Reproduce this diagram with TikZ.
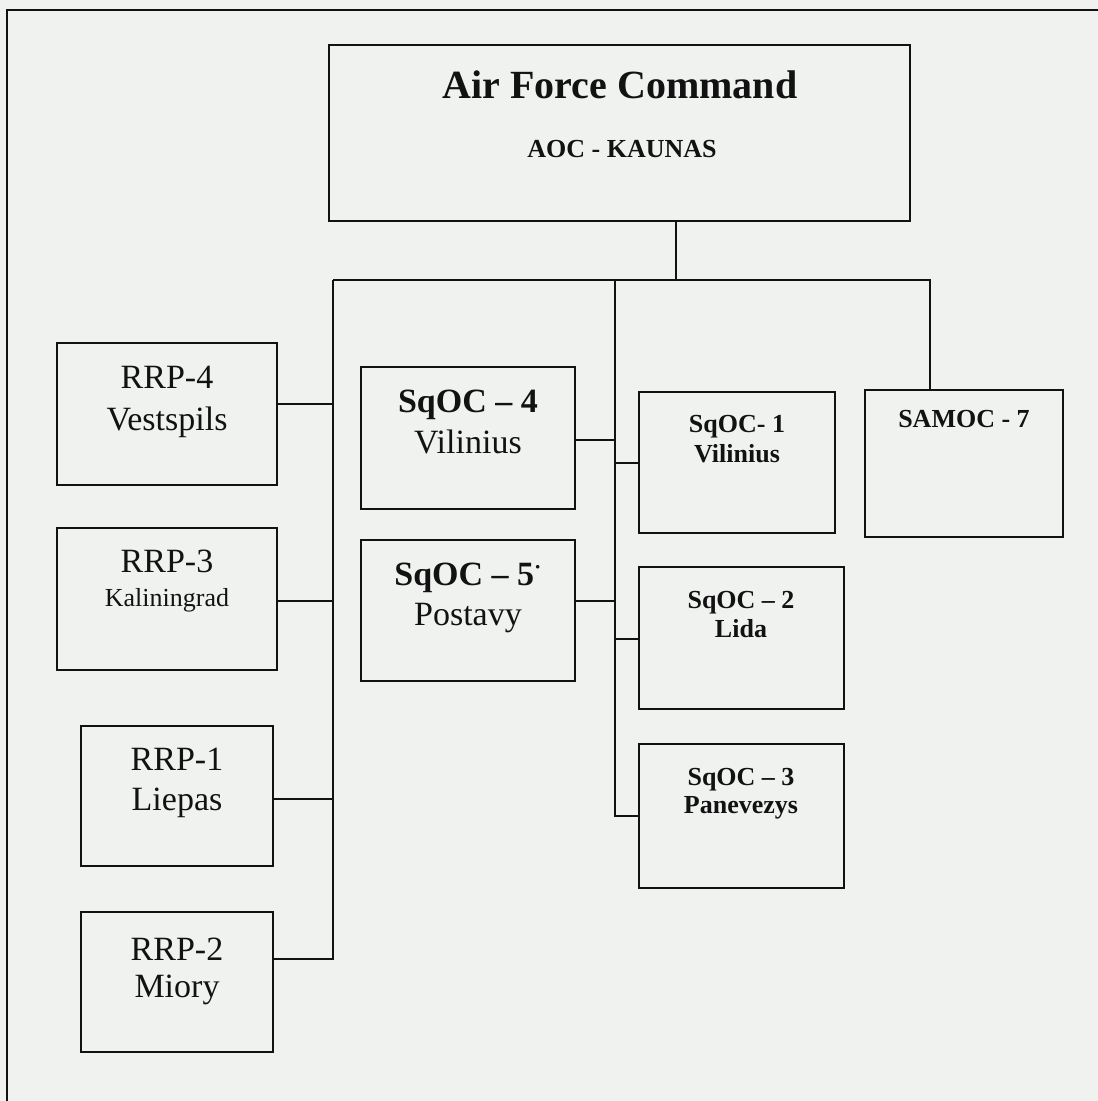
\documentclass[tikz,border=0pt]{standalone}
\usepackage{fontspec}
\setmainfont{Liberation Serif}
\definecolor{paper}{RGB}{240,242,240}
\definecolor{ink}{RGB}{18,18,18}
\newcommand{\fsbig}{\fontsize{34}{40}\selectfont}
\newcommand{\fssmall}{\fontsize{26}{30}\selectfont}
\begin{document}
\begin{tikzpicture}[x=1pt,y=-1pt,
  box/.style={draw=ink, line width=2.8pt, inner sep=0pt, outer sep=0pt, rectangle},
  wire/.style={draw=ink, line width=2.4pt},
  lbl/.style={anchor=base, inner sep=0pt, text=ink}]
\fill[paper] (0,0) rectangle (1098,1101);
\useasboundingbox (0,0) rectangle (1098,1101);
\draw[ink, line width=2.6pt] (7,1101) -- (7,10) -- (1098,10);

% boxes
\node[box, minimum width=581pt, minimum height=176pt] (afc) at (619.5,133) {};
\node[box, minimum width=220pt, minimum height=142pt] (rrp4) at (167,414) {};
\node[box, minimum width=220pt, minimum height=142pt] (rrp3) at (167,599) {};
\node[box, minimum width=192pt, minimum height=140pt] (rrp1) at (177,796) {};
\node[box, minimum width=192pt, minimum height=140pt] (rrp2) at (177,982) {};
\node[box, minimum width=214pt, minimum height=142pt] (sq4) at (468,438) {};
\node[box, minimum width=214pt, minimum height=141pt] (sq5) at (468,610.5) {};
\node[box, minimum width=196pt, minimum height=141pt] (sq1) at (737,462.5) {};
\node[box, minimum width=205pt, minimum height=142pt] (sq2) at (741.5,638) {};
\node[box, minimum width=205pt, minimum height=144pt] (sq3) at (741.5,816) {};
\node[box, minimum width=198pt, minimum height=147pt] (samoc) at (964,463.5) {};

% texts
\node[lbl] (afcA) at (620,98) {\bfseries\fontsize{40}{44}\selectfont Air Force Command};
\node[lbl] (afcB) at (622,157) {\bfseries\fssmall AOC - KAUNAS};
\node[lbl] (rrp4A) at (167,388) {\fsbig RRP-4};
\node[lbl] (rrp4B) at (167,430) {\fsbig Vestspils};
\node[lbl] (rrp3A) at (167,572) {\fsbig RRP-3};
\node[lbl] (rrp3B) at (167,606) {\fssmall Kaliningrad};
\node[lbl] (rrp1A) at (177,770) {\fsbig RRP-1};
\node[lbl] (rrp1B) at (177,810) {\fsbig Liepas};
\node[lbl] (rrp2A) at (177,960) {\fsbig RRP-2};
\node[lbl] (rrp2B) at (177,997) {\fsbig Miory};
\node[lbl] (sq4A) at (468,412) {\bfseries\fsbig SqOC – 4};
\node[lbl] (sq4B) at (468,453) {\fsbig Vilinius};
\node[lbl] (sq5A) at (468,585) {\bfseries\fsbig SqOC – 5\raisebox{0.3em}{\fontsize{22}{22}\selectfont ·}};
\node[lbl] (sq5B) at (468,625) {\fsbig Postavy};
\node[lbl] (sq1A) at (737,432) {\bfseries\fssmall SqOC- 1};
\node[lbl] (sq1B) at (737,462) {\bfseries\fssmall Vilinius};
\node[lbl] (sq2A) at (741,608) {\bfseries\fssmall SqOC – 2};
\node[lbl] (sq2B) at (741,637) {\bfseries\fssmall Lida};
\node[lbl] (sq3A) at (741,785) {\bfseries\fssmall SqOC – 3};
\node[lbl] (sq3B) at (741,813) {\bfseries\fssmall Panevezys};
\node[lbl] (samocA) at (964,427) {\bfseries\fssmall SAMOC - 7};

% connector junctions
\coordinate (top) at (676,280);
\coordinate (busL) at (333,280);
\coordinate (busM) at (615,280);
\coordinate (busR) at (930,280);
\coordinate (lend) at (333,959);
\coordinate (l4) at (333,404);
\coordinate (l3) at (333,601);
\coordinate (l1) at (333,799);
\coordinate (mend) at (615,816);
\coordinate (m4) at (615,440);
\coordinate (m5) at (615,601);
\coordinate (m1) at (615,463);
\coordinate (m2) at (615,639);

\draw[wire] (afc.south -| top) -- (top);
\draw[wire] (busL) -- (busR) -- (samoc.north -| busR);
\draw[wire] (busL) -- (lend) -- (lend -| rrp2.east);
\draw[wire] (l4) -- (l4 -| rrp4.east);
\draw[wire] (l3) -- (l3 -| rrp3.east);
\draw[wire] (l1) -- (l1 -| rrp1.east);
\draw[wire] (busM) -- (mend) -- (mend -| sq3.west);
\draw[wire] (m4) -- (m4 -| sq4.east);
\draw[wire] (m5) -- (m5 -| sq5.east);
\draw[wire] (m1) -- (m1 -| sq1.west);
\draw[wire] (m2) -- (m2 -| sq2.west);
\end{tikzpicture}
\end{document}
